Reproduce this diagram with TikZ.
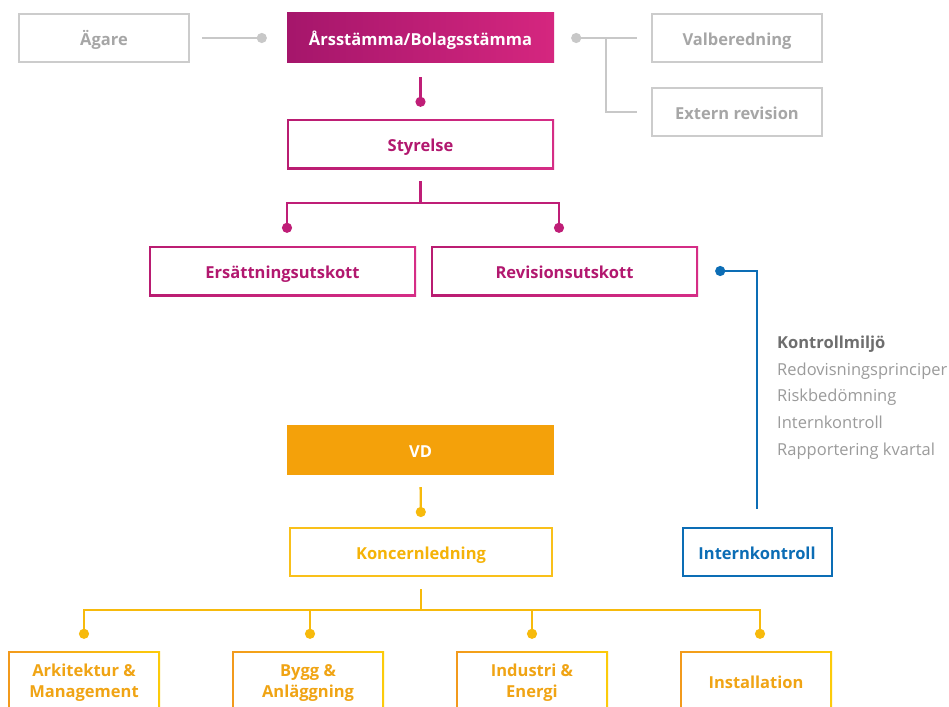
\documentclass[tikz,border=0pt]{standalone}
\usepackage{fontspec}
\setmainfont{Open Sans}
\usetikzlibrary{arrows.meta}
\definecolor{grayB}{HTML}{CCCCCC}
\definecolor{grayL}{HTML}{C8C8C8}
\definecolor{grayT}{HTML}{A6A6A6}
\definecolor{magL}{HTML}{A5166B}
\definecolor{magR}{HTML}{D5267F}
\definecolor{magBL}{HTML}{B91C71}
\definecolor{magBR}{HTML}{D52D86}
\definecolor{magT}{HTML}{B2186F}
\definecolor{magC}{HTML}{BF1E77}
\definecolor{orangeVD}{HTML}{F4A10A}
\definecolor{yelL}{HTML}{F7BA0C}
\definecolor{yelB}{HTML}{F9C01A}
\definecolor{yelT}{HTML}{F5B308}
\definecolor{botL}{HTML}{F29A1C}
\definecolor{botR}{HTML}{FCCB0A}
\definecolor{botT}{HTML}{F0A414}
\definecolor{blueC}{HTML}{0C6DB5}
\definecolor{listD}{HTML}{6E6E6E}
\definecolor{listL}{HTML}{9B9B9B}
\tikzset{
  lbl/.style={font=\bfseries\fontsize{16.5}{21}\selectfont},
  base/.style={rectangle, inner sep=0pt, align=center, lbl, text height=15.5pt, text depth=0pt},
  graybox/.style={base, draw=grayB, line width=2pt, text=grayT, minimum width=170pt, minimum height=48pt},
  filledbox/.style={base, minimum width=267pt, minimum height=50pt},
  gradframe/.style={rectangle, inner sep=0pt, align=center, lbl, path picture={\fill[white] ([shift={(2pt,-2pt)}]path picture bounding box.north west) rectangle ([shift={(-2pt,2pt)}]path picture bounding box.south east);}},
  magbox/.style={gradframe, text height=15.5pt, text depth=0pt, left color=magBL, right color=magBR, text=magT, minimum width=267pt, minimum height=50pt},
  botbox/.style={gradframe, text depth=0pt, left color=botL, right color=botR, text=botT, minimum width=152pt, minimum height=60pt},
  yelbox/.style={base, draw=yelB, line width=2pt, text=yelT, minimum width=262pt, minimum height=48pt},
  bluebox/.style={base, draw=blueC, line width=2pt, text=blueC, minimum width=149pt, minimum height=48pt},
  conn/.style={line width=2.4pt},
  dotend/.style={-{Circle[length=10pt]}},
  dotstart/.style={{Circle[length=10pt]}-},
  listitem/.style={anchor=base west, inner sep=0pt, font=\fontsize{16.5}{20}\selectfont, text=listL},
}
\begin{document}
\begin{tikzpicture}[x=1pt,y=-1pt]
\useasboundingbox (0,0) rectangle (949,706);
\clip (0,0) rectangle (949,706);
\fill[white] (0,0) rectangle (949,706);

% top row
\node[graybox] (agare) at (104,38) {Ägare};
\node[filledbox, left color=magL, right color=magR, text=white] (ars) at (420.5,38) {Årsstämma/Bolagsstämma};
\node[graybox] (val) at (737,38) {Valberedning};
\node[graybox] (ext) at (737,112) {Extern revision};

\node[magbox] (sty) at (420.5,144) {Styrelse};
\node[magbox] (ers) at (282.5,271) {Ersättningsutskott};
\node[magbox] (rev) at (564.5,271) {Revisionsutskott};

\node[filledbox, fill=orangeVD, text=white] (vd) at (420.5,450) {VD};
\node[yelbox] (kon) at (421,552) {Koncernledning};
\node[bluebox] (ik) at (757,552) {Internkontroll};

\node[botbox] (b1) at (84,681) {Arkitektur \&\\Management};
\node[botbox] (b2) at (308,681) {Bygg \&\\Anläggning};
\node[botbox] (b3) at (532,681) {Industri \&\\Energi};
\node[botbox, text height=15.5pt] (b4) at (756,681) {Installation};

% list
\node[listitem, text=listD, font=\bfseries\fontsize{16.5}{20}\selectfont] (l0) at (777,348) {Kontrollmiljö};
\node[listitem] (l1) at (777,375) {Redovisningsprinciper};
\node[listitem] (l2) at (777,401.5) {Riskbedömning};
\node[listitem] (l3) at (777,428) {Internkontroll};
\node[listitem] (l4) at (777,455) {Rapportering kvartal};

% connectors
\draw[conn, grayL, dotend, shorten <=12pt, shorten >=20pt] (agare) -- (ars);
\draw[conn, grayL, dotstart, shorten <=17pt, shorten >=14pt] (ars) -- (val);
\coordinate (g1) at (606,38);
\draw[conn, grayL, shorten >=14pt] (g1) |- (ext);

\draw[conn, magC, dotend, shorten <=14pt, shorten >=12pt] (ars) -- (sty);
\coordinate (j1) at (420.5,203);
\draw[conn, magC, shorten <=12pt] (sty) -- (j1);
\draw[conn, magC, dotend, shorten >=13pt] (j1) -| ([xshift=4.5pt]ers.north);
\draw[conn, magC, dotend, shorten >=13pt] (j1) -| ([xshift=-5.5pt]rev.north);

\draw[conn, blueC, dotstart, shorten <=17pt, shorten >=18pt] (rev) -| (ik);

\draw[conn, yelL, dotend, shorten <=12pt, shorten >=10pt] (vd) -- (kon);
\coordinate (j2) at (421,610);
\draw[conn, yelL, shorten <=12pt] (kon) -- (j2);
\draw[conn, yelL, dotend, shorten >=12pt] (j2) -| (b1.north);
\draw[conn, yelL, dotend, shorten >=12pt] (j2) -| ([xshift=2pt]b2.north);
\draw[conn, yelL, dotend, shorten >=12pt] (j2) -| (b3.north);
\draw[conn, yelL, dotend, shorten >=12pt] (j2) -| ([xshift=4pt]b4.north);
\end{tikzpicture}
\end{document}
